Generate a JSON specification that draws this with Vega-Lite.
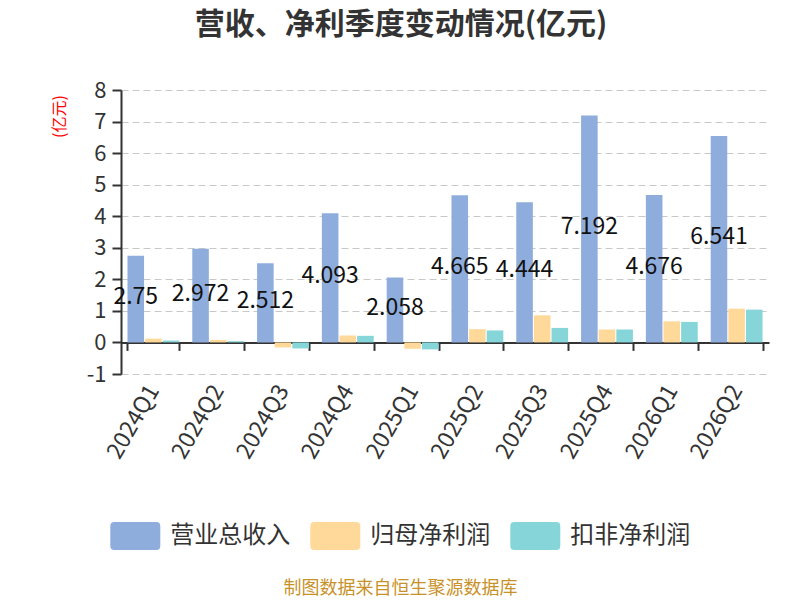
{
  "$schema": "https://vega.github.io/schema/vega-lite/v6.json",
  "width": 648,
  "height": 284,
  "autosize": {"type": "none"},
  "padding": {"left": 121, "top": 90, "right": 31, "bottom": 226},
  "background": "white",
  "config": {"font": "Noto Sans CJK SC", "view": {"stroke": null}},
  "title": {
    "text": "营收、净利季度变动情况(亿元)",
    "fontSize": 30,
    "fontWeight": "bold",
    "color": "#333333",
    "anchor": "middle",
    "dx": -44,
    "offset": 39
  },
  "data": {
    "values": [
      {"quarter": "2024Q1", "series": "营业总收入", "value": 2.75},
      {"quarter": "2024Q2", "series": "营业总收入", "value": 2.972},
      {"quarter": "2024Q3", "series": "营业总收入", "value": 2.512},
      {"quarter": "2024Q4", "series": "营业总收入", "value": 4.093},
      {"quarter": "2025Q1", "series": "营业总收入", "value": 2.058},
      {"quarter": "2025Q2", "series": "营业总收入", "value": 4.665},
      {"quarter": "2025Q3", "series": "营业总收入", "value": 4.444},
      {"quarter": "2025Q4", "series": "营业总收入", "value": 7.192},
      {"quarter": "2026Q1", "series": "营业总收入", "value": 4.676},
      {"quarter": "2026Q2", "series": "营业总收入", "value": 6.541},
      {"quarter": "2024Q1", "series": "归母净利润", "value": 0.12},
      {"quarter": "2024Q2", "series": "归母净利润", "value": 0.08},
      {"quarter": "2024Q3", "series": "归母净利润", "value": -0.16},
      {"quarter": "2024Q4", "series": "归母净利润", "value": 0.22},
      {"quarter": "2025Q1", "series": "归母净利润", "value": -0.2},
      {"quarter": "2025Q2", "series": "归母净利润", "value": 0.42},
      {"quarter": "2025Q3", "series": "归母净利润", "value": 0.86},
      {"quarter": "2025Q4", "series": "归母净利润", "value": 0.41},
      {"quarter": "2026Q1", "series": "归母净利润", "value": 0.67},
      {"quarter": "2026Q2", "series": "归母净利润", "value": 1.07},
      {"quarter": "2024Q1", "series": "扣非净利润", "value": 0.06},
      {"quarter": "2024Q2", "series": "扣非净利润", "value": 0.04},
      {"quarter": "2024Q3", "series": "扣非净利润", "value": -0.19},
      {"quarter": "2024Q4", "series": "扣非净利润", "value": 0.21},
      {"quarter": "2025Q1", "series": "扣非净利润", "value": -0.22},
      {"quarter": "2025Q2", "series": "扣非净利润", "value": 0.38},
      {"quarter": "2025Q3", "series": "扣非净利润", "value": 0.46},
      {"quarter": "2025Q4", "series": "扣非净利润", "value": 0.41},
      {"quarter": "2026Q1", "series": "扣非净利润", "value": 0.65},
      {"quarter": "2026Q2", "series": "扣非净利润", "value": 1.04}
    ]
  },
  "encoding": {
    "x": {
      "field": "quarter",
      "type": "nominal",
      "sort": null,
      "scale": {"paddingInner": 0.2, "paddingOuter": 0.1},
      "axis": {
        "orient": "bottom",
        "offset": -31.6,
        "title": "制图数据来自恒生聚源数据库",
        "titleColor": "#c8922a",
        "titleFontSize": 18,
        "titleFontWeight": "normal",
        "titleX": 279,
        "titleY": 246,
        "titleAlign": "center",
        "titleBaseline": "middle",
        "labelAngle": -60,
        "labelAlign": "right",
        "labelBaseline": "middle",
        "labelFontSize": 23,
        "labelColor": "#333333",
        "labelPadding": 36,
        "labelOverlap": false,
        "tickBand": "extent",
        "tickSize": 8,
        "tickWidth": 2,
        "tickColor": "#333333",
        "domainWidth": 2,
        "domainColor": "#333333",
        "grid": false
      }
    },
    "xOffset": {
      "field": "series",
      "type": "nominal",
      "sort": ["营业总收入", "归母净利润", "扣非净利润"],
      "scale": {"paddingInner": 0.06}
    }
  },
  "layer": [
    {
      "mark": {"type": "bar"},
      "encoding": {
        "y": {
          "field": "value",
          "type": "quantitative",
          "scale": {"domain": [-1, 8], "nice": false, "zero": false},
          "axis": {
            "title": "(亿元)",
            "titleColor": "red",
            "titleFontSize": 16,
            "titleFontWeight": "normal",
            "titleAngle": -90,
            "titleX": -62,
            "titleY": 26,
            "titleAlign": "center",
            "titleBaseline": "middle",
            "values": [-1, 0, 1, 2, 3, 4, 5, 6, 7, 8],
            "tickCount": 10,
            "labelExpr": "'' + datum.value",
            "labelOverlap": false,
            "grid": true,
            "gridDash": [7, 4],
            "gridColor": "#c8c8c8",
            "domainColor": "#333333",
            "domainWidth": 2,
            "tickColor": "#333333",
            "tickWidth": 2,
            "tickSize": 9,
            "labelFontSize": 22,
            "labelColor": "#333333",
            "labelPadding": 6
          }
        },
        "color": {
          "field": "series",
          "type": "nominal",
          "sort": ["营业总收入", "归母净利润", "扣非净利润"],
          "scale": {
            "domain": ["营业总收入", "归母净利润", "扣非净利润"],
            "range": ["#8FADDC", "#FFD999", "#86D5D8"]
          },
          "legend": {
            "orient": "none",
            "legendX": -10.7,
            "legendY": 421,
            "direction": "horizontal",
            "title": null,
            "symbolType": "M-0.84,-0.56 L0.84,-0.56 Q1,-0.56 1,-0.4 L1,0.4 Q1,0.56 0.84,0.56 L-0.84,0.56 Q-1,0.56 -1,0.4 L-1,-0.4 Q-1,-0.56 -0.84,-0.56 Z",
            "symbolSize": 2500,
            "symbolStrokeWidth": 0,
            "symbolOpacity": 1,
            "labelFontSize": 24,
            "labelColor": "#333333",
            "labelOffset": 10,
            "columnPadding": 20
          }
        }
      }
    },
    {
      "transform": [
        {"filter": "datum.series === '营业总收入'"},
        {"calculate": "datum.value / 2", "as": "mid"}
      ],
      "mark": {"type": "text", "fontSize": 23, "color": "#111111", "baseline": "middle", "dy": -2},
      "encoding": {
        "y": {
          "field": "mid",
          "type": "quantitative",
          "scale": {"domain": [-1, 8], "nice": false, "zero": false},
          "axis": {
            "title": "(亿元)",
            "titleColor": "red",
            "titleFontSize": 16,
            "titleFontWeight": "normal",
            "titleAngle": -90,
            "titleX": -62,
            "titleY": 26,
            "titleAlign": "center",
            "titleBaseline": "middle",
            "values": [-1, 0, 1, 2, 3, 4, 5, 6, 7, 8],
            "tickCount": 10,
            "labelExpr": "'' + datum.value",
            "labelOverlap": false,
            "grid": true,
            "gridDash": [7, 4],
            "gridColor": "#c8c8c8",
            "domainColor": "#333333",
            "domainWidth": 2,
            "tickColor": "#333333",
            "tickWidth": 2,
            "tickSize": 9,
            "labelFontSize": 22,
            "labelColor": "#333333",
            "labelPadding": 6
          }
        },
        "text": {"field": "value", "type": "quantitative"}
      }
    }
  ]
}
